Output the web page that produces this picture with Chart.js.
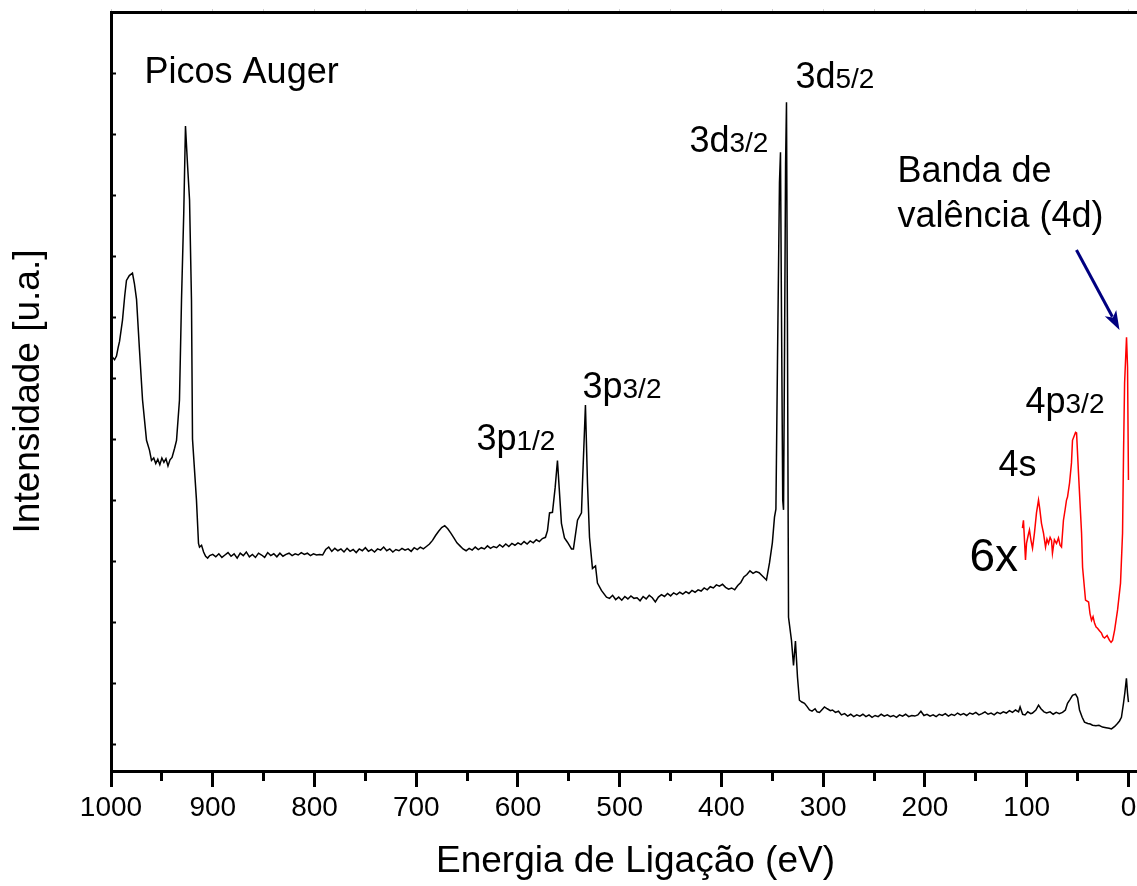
<!DOCTYPE html>
<html lang="pt">
<head>
<meta charset="utf-8">
<title>Espectro XPS - Pd</title>
<script src="https://cdn.jsdelivr.net/npm/chart.js@4.4.0/dist/chart.umd.min.js"></script>
<style>
  html, body { margin: 0; padding: 0; background: #fff; overflow: hidden; }
  canvas { display: block; }
</style>
</head>
<body>
<canvas id="xps" width="1200" height="886"></canvas>
<script>
const FONT = "'Liberation Sans', Arial, sans-serif";

// eixo x: energia de ligação (eV), eixo y: intensidade (u.a.)
const energyTicks = [1000, 950, 900, 850, 800, 750, 700, 650, 600, 550, 500,
  450, 400, 350, 300, 250, 200, 150, 100, 50, 0];
const intensityTicks = [0, 10, 20, 30, 40, 50, 60, 70, 80, 90, 100, 110];

// espectro completo (survey)
const surveyEnergy = [
  1000, 998.5, 996.5, 994.6, 993, 991.6, 988.7, 986.5, 984.8, 982, 978.9, 977, 974.9, 972, 969,
  965.1, 962.2, 960.2, 958, 956, 954, 952, 950, 948, 946, 944, 942, 940, 937.5, 935.6,
  932.7, 930.7, 928.5, 926.8, 924.8, 922.8, 920.9, 919.9, 916, 914, 913, 911, 909, 907, 905, 903,
  900, 897, 894, 891, 888, 885, 882, 879, 876, 873, 870, 867, 864, 861, 858, 855, 852, 849,
  846, 843, 840, 837, 834, 831, 828, 825, 822, 819, 816, 813, 810, 807, 804, 801, 798, 795,
  792, 789, 786, 783, 780, 777, 774, 771, 768, 765, 762, 759, 756, 753, 750, 747, 744, 741,
  738, 735, 732, 729, 726, 723, 720, 717, 714, 711, 708, 705, 702, 699, 696, 693, 690, 687,
  684, 681, 678, 675, 672, 669, 666, 663, 660, 657, 654, 651, 648, 645, 642, 639, 636, 633,
  630, 627, 624, 621, 618, 615, 612, 609, 606, 603, 600, 597, 594, 591, 588, 585, 582, 579,
  576, 573, 571, 569, 566.1, 563.5, 561.2, 559.5, 557.3, 554.3, 551.4, 547.4, 545.5, 541.5,
  537.6, 536.6, 533.7, 531.7, 529.7, 526.8, 523.8, 521.9, 518, 513,
  510, 507, 504, 501, 498, 495, 492, 489, 486, 483, 480, 477, 474, 471, 468, 465, 462, 459,
  456, 453, 450, 447, 444, 441, 438, 435, 432, 429, 426, 423, 420, 417, 414, 411, 408, 405,
  402, 399, 396, 393, 390, 387, 384, 381, 378, 375, 372, 369, 366, 363, 360, 357, 355.8, 352.8,
  350, 347.9, 346.5, 345, 343, 342, 341, 339.8, 339, 338, 337, 336.1, 335.2, 334.1, 331.2,
  329.2, 327.3, 325.3, 323.4, 321, 318.4, 316, 313.5, 311, 308, 306, 303.7, 301, 298.8, 296,
  293, 290.9, 288, 285, 282.1, 279, 276, 273, 270, 267, 264, 261, 258, 255, 252, 249, 246,
  243, 240, 237, 234, 231, 228, 225, 222, 219, 216, 213, 210, 207, 204, 201, 198, 195, 192,
  189, 186, 183, 180, 177, 174, 171, 168, 165, 162, 159, 156, 153, 150, 147, 144, 141, 138,
  135, 132, 129, 126, 123, 120, 117, 114, 111, 108, 106.5, 104, 101.6, 99, 96, 94.3, 91, 88.4,
  86, 83, 80.5, 77, 74, 71, 68, 64.8, 62, 59.9, 57.5, 55, 52, 50, 48.1, 45.5, 43.2, 40, 37.5,
  35.3, 32, 29, 25.5, 22, 19, 16.7, 13.5, 10.8, 8.8, 6.9, 4.9, 3.5, 2, 1, 0
];
const surveyIntensity = [
  63.2, 63.4, 63.0, 63.6, 65.0, 66.0, 69.5, 73.5, 76.0, 76.8, 77.2, 75.5, 72.9, 64.6, 56.4,
  49.8, 48.2, 46.5, 46.9, 46.0, 46.7, 45.8, 46.9, 46.2, 46.8, 45.6, 46.6, 47.0, 48.5, 49.8,
  56.4, 72.8, 87.0, 101.3, 95.0, 89.2, 72.8, 50.0, 40.0, 32.9, 32.3, 32.6, 31.5, 30.8, 30.5, 30.9,
  31.1, 30.7, 31.2, 30.6, 31.0, 31.4, 30.8, 31.2, 30.5, 31.3, 30.9, 31.5, 30.7, 31.1, 30.6, 31.3, 31.0, 30.6,
  31.4, 30.9, 31.2, 30.7, 31.3, 30.8, 31.1, 31.3, 30.9, 31.2, 31.0, 31.4, 31.1, 31.3, 30.9, 31.2, 31.0, 31.1,
  31.0, 31.9, 32.3, 31.6, 32.1, 31.7, 32.0, 31.5, 32.1, 31.6, 31.9, 31.4, 32.0, 31.7, 32.2, 31.6, 31.9, 31.5,
  32.0, 31.8, 32.3, 31.7, 32.0, 31.5, 31.9, 31.7, 32.1, 31.8, 32.0, 31.6, 32.2, 31.9, 32.3, 32.0, 32.4, 32.8,
  33.4, 34.2, 34.9, 35.5, 35.8, 35.3, 34.6, 33.8, 33.0, 32.5, 32.0, 31.7, 32.1, 31.8, 32.3, 31.9, 32.2, 32.0,
  32.5, 32.1, 32.4, 32.2, 32.7, 32.3, 32.8, 32.4, 32.9, 32.6, 33.0, 32.7, 33.2, 32.8, 33.3, 33.0, 33.5, 33.2,
  33.7, 33.9, 35.0, 37.9, 38.0, 42.0, 46.5, 42.0, 36.2, 33.8, 33.1, 32.0, 32.0, 36.7,
  37.9, 42.8, 55.6, 42.8, 33.9, 28.8, 29.2, 26.4, 25.2, 24.1,
  23.9, 24.4, 23.7, 24.1, 23.6, 24.2, 23.8, 24.3, 23.9, 24.0, 23.5, 24.2, 23.8, 24.4, 24.0, 23.3, 24.1, 24.5,
  24.2, 24.7, 24.3, 24.8, 24.5, 24.9, 24.6, 25.0, 24.7, 25.2, 24.9, 25.3, 25.1, 25.6, 25.3, 25.8, 25.6, 26.1,
  25.9, 26.2, 25.7, 25.4, 25.6, 25.3, 26.0, 26.5, 27.4, 27.8, 28.4, 28.0, 28.3, 28.1, 27.6, 27.1, 26.9, 29.7,
  33.0, 37.2, 38.5, 62.0, 92.0, 97.0, 70.0, 40.0, 38.4, 65.0, 95.0, 105.2, 70.0, 20.8, 17.0,
  12.9, 16.9, 11.0, 7.2, 6.9, 6.7, 6.2, 5.6, 5.4, 5.8, 5.3, 5.2, 5.7, 6.1, 5.8,
  5.5, 5.6, 5.2, 5.4, 4.8, 5.0, 4.6, 4.9, 4.5, 4.8, 4.6, 4.9, 4.5, 4.8, 4.4, 4.7, 4.5,
  4.9, 4.6, 4.8, 4.5, 4.7, 4.4, 4.8, 4.6, 4.9, 4.5, 4.7, 4.6, 4.8, 5.4, 4.7, 4.9, 4.6, 4.8,
  4.5, 4.9, 4.7, 5.0, 4.6, 4.9, 4.7, 5.1, 4.8, 5.0, 4.7, 5.1, 4.9, 5.2, 4.8, 5.0, 5.3, 4.9,
  5.1, 4.8, 5.2, 5.0, 5.3, 5.1, 5.5, 5.2, 5.6, 5.3, 6.1, 4.9, 4.8, 5.3, 5.0, 5.1, 5.6, 6.4,
  5.8, 5.3, 5.1, 5.3, 4.9, 5.2, 5.0, 5.2, 5.6, 6.7, 7.3, 8.0, 8.2, 7.6, 5.6, 4.4, 3.6, 3.4, 3.3,
  3.1, 3.0, 3.1, 2.8, 2.7, 2.6, 2.5, 2.9, 3.4, 3.8, 4.4, 6.7, 8.5, 10.8, 8.5, 6.9
];

// banda de valência e níveis 4s / 4p ampliados 6x
const valenceEnergy = [
  104.2, 103.2, 101.2, 100.2, 98.6, 97.3, 95.8, 94.3, 92.4, 90.4, 88.4, 87.2, 85.5, 83.5, 81.5,
  80.1, 78.6, 77.0, 75.6, 74.7, 72.8, 70.7, 68.8, 67.2, 65.8, 63.9, 62.2, 60.9, 59.9, 57.9, 56,
  55, 52, 51, 49.1, 46.1, 45.1, 42.2, 39.2, 37.8, 36.3, 34.8, 33.3, 31.8, 30.4, 28.5, 26.5,
  25.0, 23.5, 21.0, 18.6, 17.1, 15.6, 13.6, 10.7, 7.8, 5.8, 4.8, 3.8, 1.9, 0.9, 0
];
const valenceIntensity = [
  35.4, 36.7, 30.2, 32.9, 34.2, 35.1, 33.4, 32.1, 34.6, 37.9, 40.0, 38.6, 36.2, 34.6, 32.3,
  33.6, 32.9, 33.9, 33.4, 31.3, 33.5, 32.9, 33.8, 32.6, 32.3, 36.7, 38.5, 40.0, 40.5, 42.8, 46.1,
  49.8, 51.1, 51.0, 44.4, 34.6, 29.0, 23.6, 23.3, 21.4, 20.3, 20.9, 19.8, 19.2, 19.0, 18.6, 18.2,
  17.6, 17.4, 17.8, 17.0, 16.7, 17.0, 18.7, 22.0, 26.4, 34.6, 48.2, 59.2, 66.7, 61.8, 43.3
];

// rótulos dos picos, ancorados em (energia, intensidade)
const peakNotes = [
  { text: 'Picos Auger', energy: 967, level: 108.3 },
  { text: '3p', sub: '1/2', energy: 640.8, level: 48.2 },
  { text: '3p', sub: '3/2', energy: 536.6, level: 56.7 },
  { text: '3d', sub: '3/2', energy: 431.5, level: 97.0 },
  { text: '3d', sub: '5/2', energy: 327.3, level: 107.5 },
  { text: 'Banda de', energy: 227, level: 92.1 },
  { text: 'valência (4d)', energy: 227, level: 84.7 },
  { text: '4p', sub: '3/2', energy: 101.2, level: 54.3 },
  { text: '4s', energy: 127.8, level: 43.9 },
  { text: '6x', energy: 156.3, level: 28.4, size: 46 }
];
const valenceArrow = { from: [51.1, 81.0], to: [8.8, 67.9] };

const toPoints = (xs, ys) => xs.map((e, i) => ({ x: e, y: ys[i] }));

const peakNotesPlugin = {
  id: 'peakNotes',
  afterDatasetsDraw(chart) {
    const { ctx, scales: { x, y } } = chart;
    ctx.save();
    ctx.fillStyle = '#000';
    ctx.textAlign = 'left';
    ctx.textBaseline = 'alphabetic';
    peakNotes.forEach(n => {
      let px = x.getPixelForValue(n.energy);
      const py = y.getPixelForValue(n.level);
      ctx.font = (n.size || 36) + 'px ' + FONT;
      ctx.fillText(n.text, px, py);
      if (n.sub) {
        px += ctx.measureText(n.text).width;
        ctx.font = '28px ' + FONT;
        ctx.fillText(n.sub, px, py);
      }
    });

    // seta apontando para a banda de valência
    const x0 = x.getPixelForValue(valenceArrow.from[0]);
    const y0 = y.getPixelForValue(valenceArrow.from[1]);
    const x1 = x.getPixelForValue(valenceArrow.to[0]);
    const y1 = y.getPixelForValue(valenceArrow.to[1]);
    const ang = Math.atan2(y1 - y0, x1 - x0);
    const headLen = 19, headHalf = 6.5;
    const bx = x1 - headLen * Math.cos(ang);
    const by = y1 - headLen * Math.sin(ang);
    ctx.strokeStyle = '#000080';
    ctx.fillStyle = '#000080';
    ctx.lineWidth = 3;
    ctx.beginPath();
    ctx.moveTo(x0, y0);
    ctx.lineTo(bx + 4 * Math.cos(ang), by + 4 * Math.sin(ang));
    ctx.stroke();
    ctx.beginPath();
    ctx.moveTo(x1, y1);
    ctx.lineTo(bx - headHalf * Math.sin(ang), by + headHalf * Math.cos(ang));
    ctx.lineTo(bx + 5 * Math.cos(ang), by + 5 * Math.sin(ang));
    ctx.lineTo(bx + headHalf * Math.sin(ang), by - headHalf * Math.cos(ang));
    ctx.closePath();
    ctx.fill();
    ctx.restore();
  }
};

Chart.defaults.font.family = FONT;
Chart.defaults.color = '#000';

new Chart(document.getElementById('xps'), {
  type: 'line',
  data: {
    datasets: [
      {
        label: 'survey',
        data: toPoints(surveyEnergy, surveyIntensity),
        borderColor: '#000',
        borderWidth: 1.5,
        pointRadius: 0,
        tension: 0
      },
      {
        label: 'valência x6',
        data: toPoints(valenceEnergy, valenceIntensity),
        borderColor: '#ff0000',
        borderWidth: 1.5,
        pointRadius: 0,
        tension: 0
      }
    ]
  },
  options: {
    responsive: false,
    animation: false,
    events: [],
    layout: { padding: { top: 12, right: 40, left: 0, bottom: 0 } },
    plugins: { legend: { display: false }, tooltip: { enabled: false } },
    scales: {
      x: {
        type: 'linear',
        position: 'bottom',
        reverse: true,
        min: -31,
        max: 1000,
        afterBuildTicks: s => { s.ticks = energyTicks.map(v => ({ value: v })); },
        afterFit: s => { s.height = 115; },
        ticks: {
          autoSkip: false,
          maxRotation: 0,
          minRotation: 0,
          padding: 4,
          font: { size: 28 },
          color: '#000',
          callback: v => (v % 100 === 0 ? String(v) : '')
        },
        grid: {
          drawOnChartArea: false,
          drawTicks: true,
          tickLength: 16,
          tickColor: '#000',
          tickWidth: 3,
          tickBorderDash: c => (c.tick && c.tick.value % 100 !== 0 ? [8, 40] : [])
        },
        border: { display: true, color: '#000', width: 3 },
        title: {
          display: true,
          text: 'Energia de Ligação (eV)',
          font: { size: 37 },
          color: '#000',
          padding: { top: 0, bottom: 2 }
        }
      },
      xTop: {
        type: 'linear',
        position: 'top',
        reverse: true,
        min: -31,
        max: 1000,
        afterBuildTicks: s => { s.ticks = energyTicks.map(v => ({ value: v })); },
        afterFit: s => { s.height = 0; },
        ticks: { display: false },
        grid: {
          drawOnChartArea: false,
          drawTicks: true,
          tickLength: 3,
          tickColor: '#cfcfcf',
          tickWidth: 1
        },
        border: { display: true, color: '#000', width: 3 }
      },
      y: {
        type: 'linear',
        position: 'left',
        min: -4.4,
        max: 120,
        afterBuildTicks: s => { s.ticks = intensityTicks.map(v => ({ value: v })); },
        afterFit: s => { s.width = 111; },
        ticks: { display: false },
        grid: {
          drawOnChartArea: false,
          drawTicks: true,
          tickLength: -5,
          tickColor: '#000',
          tickWidth: 2
        },
        border: { display: true, color: '#000', width: 3 },
        title: {
          display: true,
          text: 'Intensidade [u.a.]',
          font: { size: 37 },
          color: '#000',
          padding: { top: 7, bottom: 0 }
        }
      }
    }
  },
  plugins: [peakNotesPlugin]
});
</script>
</body>
</html>
